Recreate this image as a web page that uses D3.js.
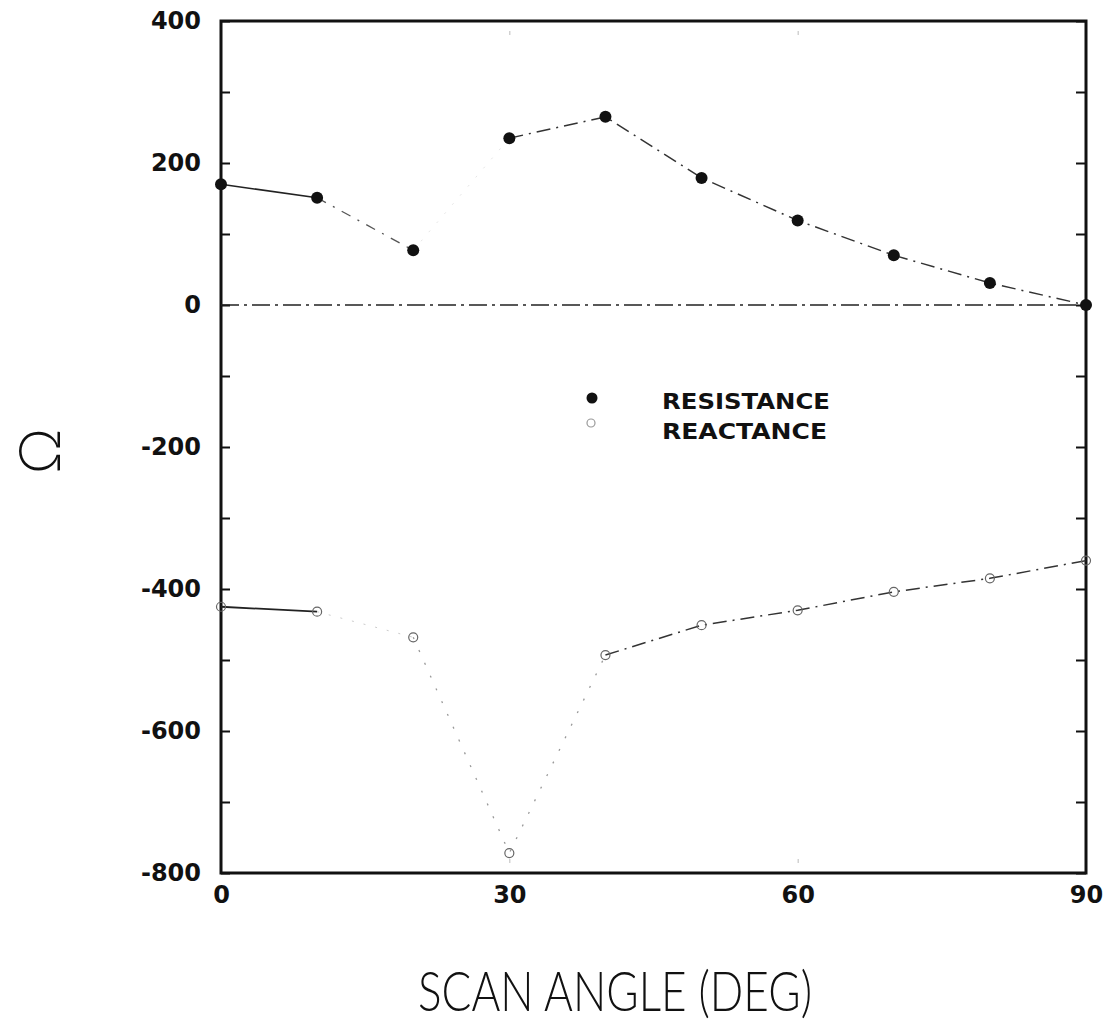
<!DOCTYPE html>
<html><head><meta charset="utf-8">
<script src="https://cdn.jsdelivr.net/npm/d3@7"></script>
<style>body{margin:0;background:#fff}</style>
</head><body><svg id="c" width="1109" height="1031"></svg>
<script>
// ---- data ----
const angles = [0, 10, 20, 30, 40, 50, 60, 70, 80, 90];
const resistance = [170, 151, 77, 235, 265, 179, 119, 70, 31, 0];
const reactance = [-425, -432, -468, -772, -493, -451, -430, -404, -385, -360];
const yTicks = [-800, -700, -600, -500, -400, -300, -200, -100, 0, 100, 200, 300, 400];
const yTickLabels = [-800, -600, -400, -200, 0, 200, 400];
const xTickLabels = [0, 30, 60, 90];
const xMinorTicks = [30, 60];
const seriesNames = ["RESISTANCE", "REACTANCE"];
const xTitle = "SCAN ANGLE (DEG)";
const yTitle = "Ω";

// ---- layout ----
const svg = d3.select("#c");
const M = {l: 221, r: 1086, t: 21, b: 873};
const x = d3.scaleLinear().domain([0, 90]).range([M.l, M.r]);
const y = d3.scaleLinear().domain([-800, 400]).range([M.b, M.t]);
const ink = "#111";
const boldFont = "'DejaVu Sans', sans-serif";

function styleAxis(g, sw) {
  g.select(".domain").remove();
  g.selectAll(".tick line").attr("stroke", ink).attr("stroke-width", sw);
  g.selectAll("text").attr("fill", ink).attr("font-family", boldFont)
    .attr("font-weight", "bold").attr("font-size", 24);
}

// left axis
svg.append("g").attr("transform", `translate(${M.l},0)`)
  .call(d3.axisLeft(y).tickValues(yTicks).tickSizeInner(-9).tickSizeOuter(0).tickPadding(20)
    .tickFormat(d => yTickLabels.includes(d) ? String(d) : ""))
  .call(g => styleAxis(g, 2));

// right axis
svg.append("g").attr("transform", `translate(${M.r},0)`)
  .call(d3.axisRight(y).tickValues(yTicks).tickSizeInner(-10).tickSizeOuter(0).tickFormat(""))
  .call(g => styleAxis(g, 2));

// top minor ticks (faint)
svg.append("g").attr("transform", `translate(0,${M.t})`)
  .call(d3.axisTop(x).tickValues(xMinorTicks).tickSizeInner(-14).tickSizeOuter(0).tickFormat(""))
  .call(g => { g.select(".domain").remove(); g.selectAll(".tick line").attr("stroke", "#bbb").attr("stroke-width", 1).attr("stroke-dasharray", "0,10,4"); });

// bottom labels
svg.append("g").attr("transform", `translate(0,${M.b})`)
  .call(d3.axisBottom(x).tickValues(xTickLabels).tickSizeInner(0).tickSizeOuter(0).tickPadding(13)
    .tickFormat(d => String(d)))
  .call(g => styleAxis(g, 0));

// bottom minor ticks (faint)
svg.append("g").attr("transform", `translate(0,${M.b})`)
  .call(d3.axisBottom(x).tickValues(xMinorTicks).tickSizeInner(-14).tickSizeOuter(0).tickFormat(""))
  .call(g => { g.select(".domain").remove(); g.selectAll(".tick line").attr("stroke", "#bbb").attr("stroke-width", 1).attr("stroke-dasharray", "0,10,4"); });

// frame
svg.append("rect").attr("x", M.l).attr("y", M.t).attr("width", M.r - M.l).attr("height", M.b - M.t)
  .attr("fill", "none").attr("stroke", ink).attr("stroke-width", 3);

// zero line
svg.append("line").attr("x1", x(0)).attr("x2", x(90)).attr("y1", y(0)).attr("y2", y(0))
  .attr("stroke", "#222").attr("stroke-width", 1.6).attr("stroke-dasharray", "18,5,3,5");

// ---- series ----
const resData = angles.map((a, i) => ({a, v: resistance[i]}));
const reaData = angles.map((a, i) => ({a, v: reactance[i]}));
const line = d3.line().x(d => x(d.a)).y(d => y(d.v));

function seg(data, i0, i1, stroke, dash, w) {
  svg.append("path").datum(data.slice(i0, i1 + 1)).attr("d", line)
    .attr("fill", "none").attr("stroke", stroke).attr("stroke-width", w)
    .attr("stroke-dasharray", dash);
}
// resistance
seg(resData, 0, 1, "#222", null, 1.6);
seg(resData, 1, 2, "#555", "10,8,2,8", 1.3);
seg(resData, 2, 3, "#e6e6e6", "2,10", 1);
seg(resData, 3, 9, "#333", "14,6,2,6", 1.5);
// reactance
seg(reaData, 0, 1, "#222", null, 1.8);
seg(reaData, 1, 2, "#ccc", "2,10", 1);
seg(reaData, 2, 4, "#999", "2,12", 1.3);
seg(reaData, 4, 9, "#333", "14,6,2,6", 1.5);

// markers
svg.append("g").selectAll("circle").data(resData).join("circle")
  .attr("cx", d => x(d.a)).attr("cy", d => y(d.v)).attr("r", 6).attr("fill", ink);
svg.append("g").selectAll("circle").data(reaData).join("circle")
  .attr("cx", d => x(d.a)).attr("cy", d => y(d.v)).attr("r", 4.5)
  .attr("fill", "none").attr("stroke", "#666").attr("stroke-width", 1.2);

// legend
const lg = svg.append("g");
lg.append("circle").attr("cx", 592).attr("cy", 398).attr("r", 5.5).attr("fill", ink);
lg.append("circle").attr("cx", 591).attr("cy", 423).attr("r", 4).attr("fill", "none").attr("stroke", "#999").attr("stroke-width", 1.2);
lg.selectAll("text").data(seriesNames).join("text")
  .attr("x", 662).attr("y", (d, i) => 409 + i * 30)
  .attr("font-family", boldFont).attr("font-weight", "bold").attr("font-size", 22)
  .attr("fill", ink)
  .attr("textLength", (d, i) => i === 0 ? 168 : 165).attr("lengthAdjust", "spacingAndGlyphs")
  .text(d => d);

// axis titles
svg.append("text").attr("x", 615).attr("y", 1011).attr("text-anchor", "middle")
  .attr("font-family", "Lato, 'DejaVu Sans', sans-serif").attr("font-weight", 300)
  .attr("font-size", 56).attr("fill", "#111")
  .attr("textLength", 394).attr("lengthAdjust", "spacingAndGlyphs")
  .text(xTitle);
svg.append("text").attr("transform", "translate(60,451) rotate(-90)").attr("text-anchor", "middle")
  .attr("font-family", "Lato, 'DejaVu Sans', sans-serif").attr("font-weight", 300)
  .attr("font-size", 58).attr("fill", "#111")
  .text(yTitle);
</script></body></html>
